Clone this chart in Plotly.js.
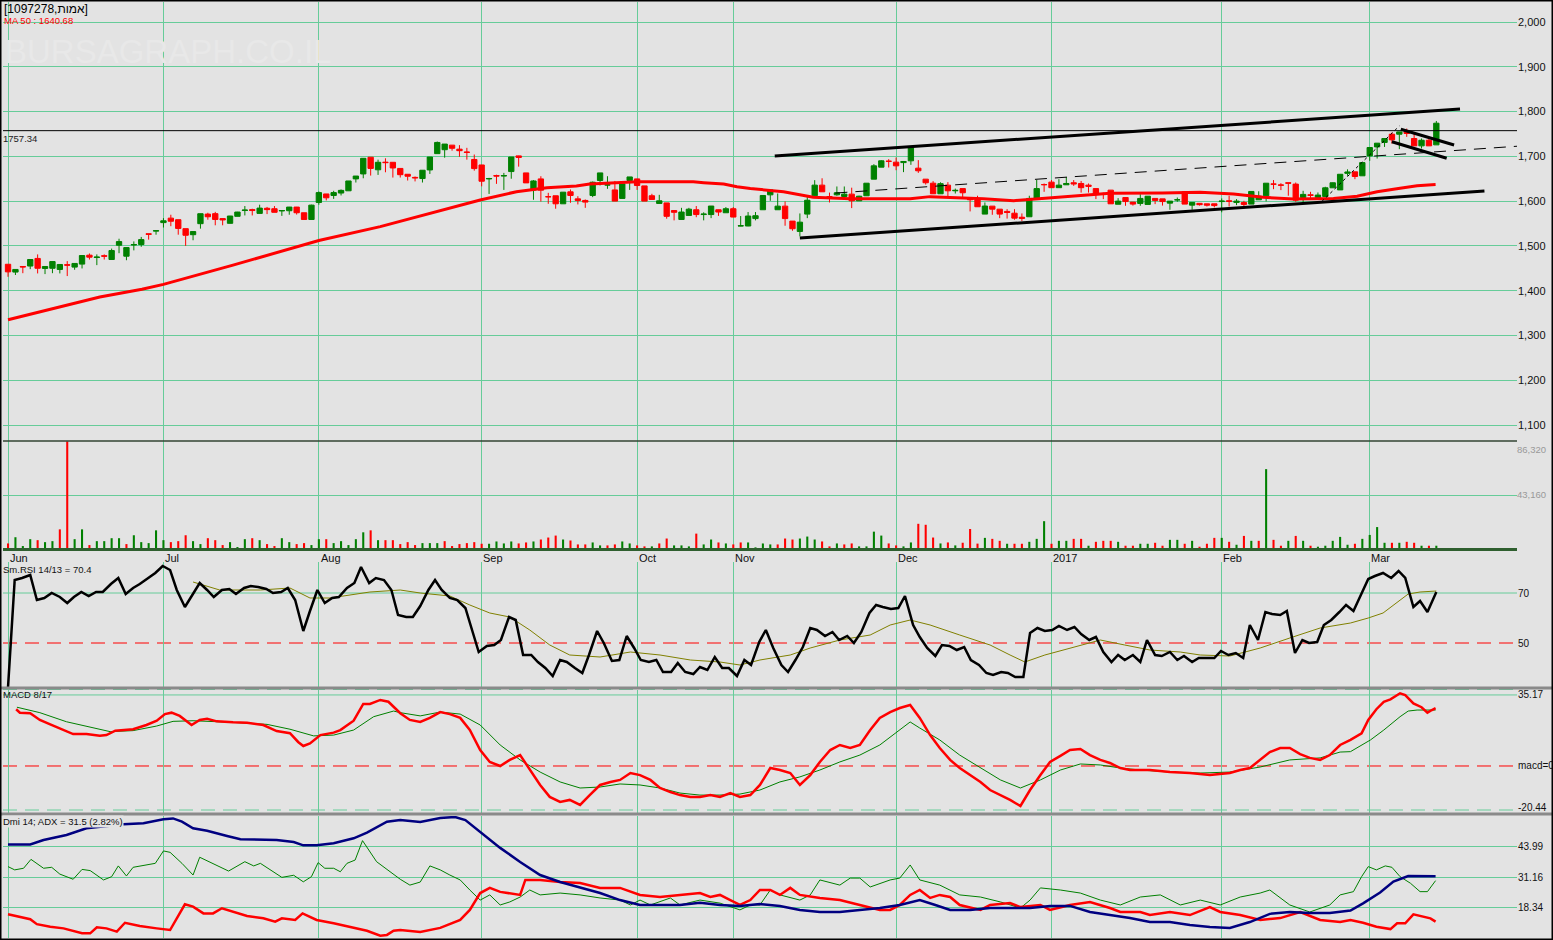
<!DOCTYPE html>
<html><head><meta charset="utf-8">
<script src="https://cdn.plot.ly/plotly-3.0.1.min.js"></script>
<style>html,body{margin:0;padding:0;background:#e3e3e3;}#chart{width:1553px;height:940px;}</style>
</head><body><div id="chart"></div>
<script>
// ---------------- DATA ----------------
const title = "[1097278,אמות]";
const maLabel = "MA 50 : 1640.68";
const monthNames = ['Jun','Jul','Aug','Sep','Oct','Nov','Dec','2017','Feb','Mar'];
const monthIdx   = [0,21,42,64,85,98,120,141,164,184];

const openP = [1459,1441.5,1454,1455,1472,1449.6,1450,1447.4,1458,1452.6,
1459.3,1479.3,1474,1478,1469.6,1501.5,1477,1502,1503,1527,
1533,1552,1562,1558.5,1538.5,1525,1549.6,1571,1572,1561,
1550.4,1566,1579,1581,1572.6,1584,1583,1578,1578.5,1586.7,
1574,1559,1597,1616,1612.6,1618,1623,1649.6,1660.7,1698,
1670,1687,1686.7,1673,1660,1653,1650.4,1669.6,1706,1714.8,
1725,1716,1709.6,1693,1680.7,1649.6,1657,1656,1666,1701,
1663,1625,1649.6,1610,1611.9,1594,1620.7,1605,1601.5,1612.6,
1646,1636,1625,1606,1646,1649.6,1634,1612,1594.8,1596,
1579,1559,1568,1580.7,1570,1570,1580.7,1574,1583,1544.4,
1544.4,1561,1580.7,1614,1580.7,1588.8,1555.4,1532.3,1571,1612,
1635.7,1610,1614,1610.4,1615.6,1600.7,1611.9,1649,1675.8,1689.2,
1687,1686,1690,1673.6,1649,1640,1616.4,1635.7,1623,1628,
1606,1603,1571,1588.8,1582,1577,1573,1564,1565,1606,
1637,1642.4,1630,1636.4,1641,1639.4,1635.7,1628,1616,1624.5,
1593,1608,1597.8,1594.8,1592.6,1606,1605,1595.5,1602.7,1620.8,
1591,1595,1594,1594,1599,1600.7,1597,1597,1593.3,1603,
1612,1638,1636,1641,1638,1608,1614,1608,1610.4,1629.7,
1625,1662,1665.4,1656.5,1701,1721,1731,1749.4,1749.4,1754.6,
1739.8,1723.4,1736,1725.6];
const highP = [1459,1447.4,1454,1470,1481,1454,1465,1459,1466,1461,
1479,1483,1481,1481,1494,1516,1496.3,1510,1520,1527,
1534,1562,1569.6,1558.5,1538.5,1532,1572,1574,1576,1562,
1567,1576,1589,1583,1592,1587,1589,1579,1587,1587,
1574,1592,1621.5,1616,1623,1626,1645,1656,1696,1698,
1692.6,1695.6,1687,1673,1660,1655,1669,1698.5,1733,1727.4,
1725,1725,1719,1704,1681,1652,1659,1663,1698.5,1701.5,
1663,1647,1655.6,1618.5,1612,1620,1626,1611,1603.7,1643.7,
1663,1655.6,1645,1639,1654,1650,1634,1616.3,1614,1596,
1579,1585,1585,1589,1575,1589,1581,1586.7,1586.7,1566.7,
1575.6,1575.6,1613,1625,1617,1599.3,1555.4,1572.5,1612,1646.8,
1651,1619,1632.7,1632.7,1630,1612,1640,1682.5,1691.5,1693.7,
1697.4,1689,1722,1691.5,1649,1644.6,1642,1642.4,1628,1628,
1606,1612,1597,1589,1582,1582,1582,1572.5,1612,1647.6,
1639.4,1647,1649,1654,1647,1645,1639.4,1628,1619,1624.5,
1606.7,1608,1598,1615.6,1611,1606,1605,1600,1608,1621,
1597,1595,1594,1594,1606,1612,1604.5,1600.7,1622,1622,
1640,1647,1640,1641,1641.6,1623,1620.8,1619.3,1632,1641.6,
1660,1671,1665.4,1686,1720,1729.4,1740,1753,1754.6,1762,
1750,1739.8,1742,1779];
const lowP = [1431,1435,1439,1448,1438.5,1437,1439,1438.5,1432.6,1446.7,
1449.6,1469.6,1457,1469.6,1469.6,1483.7,1468,1490,1498,1514,
1525,1541,1544,1525,1500,1512.6,1538.5,1558.5,1546,1546,
1550,1566,1568,1568,1572,1571,1575,1567,1569.6,1570,
1559,1559,1592,1601.5,1605,1612.6,1623,1641.5,1651,1657,
1658.5,1664.4,1652.6,1652.6,1646,1644,1641.5,1660.7,1706,1697,
1712.6,1699,1692.6,1668,1633,1616,1638.5,1625,1650,1677,
1640.7,1603,1599,1594,1583,1594,1596.3,1592.6,1585,1608.9,
1635,1627.4,1600,1606,1625,1625,1600,1603.7,1594.8,1560.7,
1557,1559,1568,1564,1557,1562,1567,1574,1564,1544,
1544,1557,1580.7,1600.7,1580.7,1545,1533.8,1521.2,1562,1610,
1620.8,1597,1612,1608,1584.4,1600.7,1611.9,1649,1675.8,1675,
1669,1664.7,1681,1663,1637,1616,1616.4,1609.7,1617,1606,
1577,1587,1571,1569.5,1562,1561,1558.4,1555.4,1565,1606,
1620.8,1630,1630,1636,1634,1619,1619,1604.5,1604.5,1594,
1593,1589.6,1590,1589.6,1592.6,1593.3,1590,1580.7,1598.5,1593.3,
1580.7,1590,1588,1586,1575,1588,1591,1583.6,1593.3,1603,
1599.3,1626.7,1624.5,1612,1598.5,1597,1606,1604.5,1610.4,1629.7,
1625,1656.5,1649,1656.5,1690,1695,1721,1728.6,1716,1743.5,
1723.4,1717.5,1723.4,1725.6];
const closeP = [1442,1447.4,1453,1469.6,1450,1454,1465,1458.5,1457,1460.8,
1478.5,1474.8,1475,1477,1489.6,1509.6,1496.3,1503,1514,1526,
1534,1556,1555,1539,1523.7,1532,1571.9,1565,1559,1558,
1566.7,1575.6,1580,1579,1584.4,1581,1575,1579,1586.7,1574,
1559,1591,1619,1607.4,1619,1624,1645,1656,1695.6,1673,
1686.7,1686,1674,1659,1655.6,1652,1669,1698.5,1731,1727.4,
1718,1712.6,1708.9,1672.6,1644.4,1650.4,1656,1657,1698.5,1697.5,
1640.7,1645,1624.4,1609.6,1594,1620,1612.6,1601.5,1597.8,1642.2,
1663,1636.3,1600,1638.5,1654,1634.8,1600,1603.7,1600.7,1566,
1575,1575.6,1582,1570,1571,1589,1575.6,1583,1564.4,1545,
1566.7,1567.4,1612.6,1625,1588.8,1561,1538.3,1553,1602,1635.7,
1620.8,1609.7,1618.6,1615.6,1600.7,1611,1640,1678.8,1690,1688.8,
1678.8,1688.5,1721,1667.7,1641,1616.4,1639,1623,1624,1618.6,
1603,1587.4,1589,1582,1571,1574.7,1562,1561.5,1606,1628,
1636.7,1630,1635.7,1639.4,1638.5,1630,1633,1615.6,1615,1594,
1600,1599,1593.3,1606,1611,1601.5,1599,1600,1603,1593.3,
1597,1592,1591,1590,1600,1599.5,1600,1592.6,1621.6,1611,
1640,1637.9,1635.7,1640,1602.2,1615,1613,1613.5,1629.7,1641,
1660,1665,1655,1686,1719.7,1729.4,1739.8,1736.8,1754.6,1751,
1723.4,1736,1723.4,1774];
const volume = [4447,9418,2354,7848,7063,5493,6278,15696,86066,7848,
15696,3139,6278,6278,8633,8633,3924,10987,5493,4709,
14911,7063,5493,6278,10987,6278,3924,8633,7063,3139,
5493,1570,7848,8633,7063,3924,2354,8633,5493,3924,
4709,3139,7848,7848,4709,6278,3139,7848,13345,14911,
7063,7063,7063,3924,5493,3139,4709,4709,4709,6278,
2354,3924,4709,5493,4200,4186,6017,4447,6017,4447,
5232,6017,7586,9156,10726,7586,6802,3662,3662,5232,
2878,2878,3662,6017,4447,2878,2093,2093,4447,8371,
2878,2878,2093,12295,3662,7586,5232,4447,3662,5232,
5232,1308,4447,3662,3662,8371,7586,8371,9941,7586,
6017,2093,4447,3662,4447,2093,2093,13865,10726,4447,
2878,2093,5232,20143,19358,9156,4447,5232,2878,5000,
16000,4300,8894,8110,6540,4186,4186,4186,5755,8110,
22236,4186,6540,6540,8110,8110,2616,5755,6540,6540,
5755,2616,2616,4186,4186,4970,2616,7325,7325,4186,
6540,1831,4186,8894,8894,5755,3400,10464,6540,6540,
63830,7325,2616,6540,10464,6540,2616,1831,2616,6540,
9679,3400,4186,8110,11249,17527,4970,4970,4970,5755,
4970,2616,2616,2616];

const maX = [0,7,12.4,18.1,21,30.4,42,50.3,63.8,68.7,72.8,76.8,78.6,85,92.6,94,96.7,98.5,100.3,104.8,107.5,108.8,113.8,121.9,124.6,131.8,135.9,140.8,143.5,148.9,156,161.1,165.6,169.6,173.7,179.1,182.3,185,188.1,190.4,192.9];
const maV = [1335,1364,1386,1403,1414,1457,1512,1543,1602.5,1621,1630,1634,1638,1643,1643,1641,1638,1632,1628,1621,1613,1608.5,1605.5,1605.5,1610,1605.5,1601,1607.7,1611,1617.4,1618,1619.6,1616,1608.5,1604.7,1606,1611,1621,1628.5,1634.5,1637];

// drawn trend lines (start, end)
const upperChX = [103.6,196.2], upperChY = [1700.7,1805.7];
const lowerChX = [107,199.5],   lowerChY = [1517.6,1622.6];
const midChX   = [111.8,204.3], midChY   = [1618,1723];
const dotLineX = [177.5,188],   dotLineY = [1598.7,1767.7];
const flagUpX  = [188.2,195.4], flagUpY  = [1760.4,1725.3];
const flagLoX  = [187,194.4],   flagLoY  = [1732.7,1695.6];
const levelLine = 1757.34;

const priceTicks = [1100,1200,1300,1400,1500,1600,1700,1800,1900,2000];
const volTicks = [43160,86320];

const rsiX = [0,0.9,1.9,3,3.9,4.9,5.9,7,8,8.9,9.9,10.9,11.9,12.8,13.9,14.9,15.9,16.9,17.8,18.9,
19.9,20.9,21.9,22.8,23.9,24.9,25.9,26.9,27.8,28.9,29.9,30.8,31.9,32.8,33.8,34.9,35.8,36.9,37.8,38.8,
39.9,40.8,41.8,42.8,43.8,44.7,45.8,46.8,47.7,48.8,49.7,50.8,51.8,52.7,53.8,54.7,55.7,56.8,57.7,58.6,
59.7,60.7,61.8,62.7,63.6,64.7,65.7,66.6,67.7,68.6,69.6,70.7,71.6,72.6,73.6,74.6,75.5,76.6,77.6,78.5,
79.6,80.5,81.6,82.6,83.6,84.6,85.5,86.6,87.6,88.5,89.6,90.5,91.5,92.6,93.5,94.5,95.5,96.5,97.4,98.5,
99.5,100.4,101.5,102.4,103.4,104.5,105.4,106.4,107.4,108.4,109.3,110.4,111.4,112.3,113.4,114.3,115.3,116.4,117.3,118.2,
119.3,120.3,121.2,122.3,123.2,124.2,125.3,126.2,127.2,128.2,129.2,130.1,131.2,132.2,133.1,134.2,135.1,136.1,137.2,138.1,
139.1,140.1,141.1,142,143.1,144.1,145,146.1,147,148,149.1,150,150.9,152,153,153.9,155,155.9,157,158,
158.9,160,160.9,161.9,163,163.9,164.9,165.9,166.9,167.8,168.9,169.9,170.8,171.9,172.8,173.9,174.9,175.8,176.9,177.8,
178.8,179.9,180.8,181.8,182.8,183.8,184.7,185.8,186.9,187.9,188.8,189.9,190.8,191.8,193];
const rsiV = [32.4,75.2,76,77.2,67.2,68,70,68.4,66,68.4,70.4,68.8,70.4,70.4,73.6,76,69.6,72,73.6,76,
78,80.8,79.2,71.2,64.4,69.2,74,71.2,68.4,71.2,71.6,69.6,72,72.8,72.4,71.6,70,70.4,72,67.2,
54.8,62.8,71.2,66,68,68.4,72,74,80.4,74,76,75.2,71.2,61.2,60.4,60.4,64.8,71.2,75.2,71.2,
68,67.2,64,55.2,46.4,48.8,49.2,51.2,60.4,59.2,45.2,45.2,42.4,40,36.8,43.2,42.4,40,38,45.2,
54.8,50,42.8,43.2,52.8,48,43.2,42.4,43.2,38.4,38.4,42,38.4,37.6,40.4,39.2,44.4,40,40,36.8,
43.2,41.2,50.4,55.2,48,41.2,38.4,43.2,48.4,56,55.2,52.8,54.4,51.2,52.8,50,54.4,62,65.2,64.4,
63.6,64,68.8,57.2,52.4,48,44.8,49.2,48.8,47.2,48.4,43.2,41.2,38,37.2,38.4,38,36.4,36.4,54,
56,54.8,55.2,56.8,55.2,56.4,53.6,51.2,52.4,46.4,42.4,45.2,43.2,45.2,42.4,51.2,45.2,44.8,46.4,43.2,
44.8,42.4,44,44,44,46.8,45.2,46,44,57.2,51.2,62.4,61.6,61.2,62.8,46,51.2,50,50.4,57.2,
59.2,62.4,65.2,62.8,69.2,75.6,76.8,78,76,78.8,76,64.4,66.8,62.4,70.4];
const rsiSigX = [25,25.9,28.6,34.1,38.1,40.8,43.5,48.9,53,55.7,59.7,62.4,65.1,67.8,70.5,73.2,75.9,80,84.1,88.1,92.2,96.2,98.9,101.6,105.7,108.4,112.4,116.5,119.2,121.9,124.6,128.6,132.7,135.4,137.4,140.1,143.5,147.6,150.9,154.3,158.4,161.1,165.1,169.2,173.2,177.3,181.4,183.8,185.8,187.7,189.2,190.8,193];
const rsiSigV = [74.4,73.6,71.2,71.2,72,68,68,70.4,71.2,70,68.8,65.2,62,60.4,55.2,49.2,45.2,44.4,46.4,45.2,43.2,42.4,41.2,43.2,45.2,48,51.2,53.2,57.2,59.2,57.2,53.2,49.2,45.2,42.4,45.2,48,51.2,49.2,47.2,46.4,45.2,44.8,48,52,56,58,60,62,66.4,69.6,70.4,70.8];
const rsiLevels = [50,70];

const macdX = [1.1,1.6,3,4.3,5.7,7,8.8,10.6,12.4,13.3,14.5,16.9,18.7,20.1,21.2,22.1,23.2,24.8,25.9,26.9,28.2,30.4,32.3,34.5,36.3,38.1,39.2,39.9,40.8,42.2,44,44.9,46.7,48,48.9,50.3,51.4,53,54.3,55.7,57,58.4,59.7,61.1,62.4,63.8,65.1,66.5,67.8,69.2,70.5,71.9,73.2,74.6,75.9,77.3,78.6,80,81.4,82.7,84.1,85.4,86.8,88.1,89.5,90.8,92.2,93.5,94.9,96.2,97.6,98.9,100.3,101.6,103,104.3,105.7,107,108.4,109.7,111.1,112.4,113.8,115.1,116.5,117.8,119.2,120.5,121.9,123.2,124.6,125.9,127.3,128.6,130,131.4,132.7,134.1,135.4,136.8,138.1,139.5,140.8,142.2,143.5,144.9,146.2,147.6,148.9,150.3,151.6,154.3,157,159.7,162.4,165.1,166.5,167.8,169.2,170.5,171.9,173.2,174.6,175.9,177.3,178.6,180,181.4,182.9,183.8,184.9,185.9,186.8,188.1,188.8,189.9,191,191.8,192.4,192.9];
const macdV = [28.1,26.4,26.1,22.8,20.6,18.7,15.8,15.8,15,15.3,17.5,18.2,20.3,22.4,25.7,26.4,24.8,20.3,22.8,23.4,22.1,21.6,21.4,20.3,17.3,16.2,11.9,9.9,11.2,15.3,16.5,17.8,22.4,30.7,30.7,32.7,31.8,26.1,22.8,21.8,23.8,26.7,25.7,23.8,17.8,7.9,2,0,3,5.4,-2,-9.4,-15.3,-17.8,-16.8,-19.3,-14.4,-9.4,-7.9,-6.9,-3.5,-4.5,-6.9,-10.9,-12.9,-14.4,-15.3,-15.3,-14.4,-15.3,-13.4,-15.3,-14.4,-9.4,-1,-2,-3.5,-9.4,-4.5,2,7.9,10.4,8.9,10.4,17.8,23.8,26.7,28.7,30.2,23.8,15.3,8.9,3,-1,-4.5,-7.9,-11.9,-14.4,-16.8,-19.8,-11.9,-4.5,2,5,7.9,8.4,5.4,3,1.5,-1,-2,-2,-3,-3.5,-4.5,-3.5,-2,-1,3,6.9,8.9,8.9,5.9,4,3,5.4,10.4,12.9,16.2,22.8,28.1,31.8,33,36,35.1,31,29.1,26.4,27.7,28.6];
const macdSigX = [1.2,4.3,7.9,11.5,13.8,16.9,20.1,22.3,25,30.4,35,38.1,41.3,44,46.7,49.4,52.1,53,55.7,58.4,61.1,63.8,66.5,69.2,71.9,74.6,77.3,80,82.7,85.4,88.1,90.8,93.5,96.2,98.9,101.6,104.3,107,109.7,112.4,115.1,117.8,120.5,121.9,123.2,125.9,128.6,131.4,134.1,136.8,139.5,142.2,144.9,147.6,150.3,153,157,161.1,165.1,169.2,173.2,177.3,180,181.4,184.1,185.9,188.1,189.2,190.4,192.9];
const macdSigV = [29.1,26.4,21.9,18.7,17,17.5,19.8,22.1,22.4,21.6,20.6,18.2,14.9,15.3,17.8,24.4,27.2,26.4,24.8,26.7,25.7,20.3,10.4,3,-3,-7.9,-10.9,-10.4,-8.9,-9.4,-10.9,-13.4,-14.4,-14.4,-13.9,-11.9,-7.9,-5.4,-2,2,5.4,10.4,17.8,21.8,18.8,12.9,5.4,-1,-6.9,-10.9,-6.9,-2,1,0.5,-1,-2,-3,-3.5,-3,-0.5,3,4,6.9,7.1,12.9,17.8,24.4,27.2,27.7,27.7];
const macdLevels = [35.17,0,-20.44];
const macdLevelText = ['35.17','macd=0','-20.44'];

const adxX = [0,3,4.8,7.9,10.6,15.6,18.3,21,22.3,23.5,25,26.9,29.6,31.4,36.3,38.6,39.9,41.7,44,46.7,48.5,51.2,53,55.7,58.4,60.4,61.8,63.8,66.5,69.2,71.9,74.6,77.3,80,82.7,85.4,90.8,93.5,96.2,98.9,101.6,104.3,107,109.7,112.4,115.1,117.8,120.5,123.2,125.3,127.3,130,132.7,138.1,140.8,143.5,146.2,148.9,151.6,154.3,157,159.7,162.4,165.1,167.8,170.5,173.2,175.9,178.6,181.4,183.1,185.4,187.2,189.2,192.9];
const adxV = [45.1,45.1,47,49.1,52,53.7,54.1,55.8,56.2,54.8,52,50.9,48.7,47.3,47,46.1,44.7,44.7,45.6,47.7,50.1,54.8,55.5,54.7,56.4,56.8,55.5,50.4,43.6,37.6,32,29,26.5,24.3,21.3,19.2,19.2,20.1,19.2,18.8,19.6,18.8,17.1,16.2,16.2,17.1,17.9,19.2,21.3,19.2,17.1,17.1,17.9,17.9,18.8,18.8,16.2,14.9,13.6,11.9,11.9,10.6,9.8,9.4,11.9,15.4,16.2,15.8,15.8,16.8,19.9,24.5,29.2,31.6,31.5];
const diPlusX = [0,0.9,2.1,3.1,4.8,5.9,7,8.8,10,11.1,12.9,14,14.9,16,16.9,19.9,21,21.9,23.5,25,25.9,27.7,29.8,32,33.2,34.1,37,38.6,39.9,41,41.9,42.8,44,44.9,45.8,46.9,47.9,49.8,51.2,53,54.3,55.7,57,58.4,59.7,61.1,62.4,63.8,65.1,66.5,67.8,69.2,70.5,71.9,74.6,77.3,80,82.7,84.1,85.4,86.8,89.5,90.8,93.5,96.2,98.9,100.3,101.6,103,104.3,107,108.4,109.7,112.4,113.8,115.1,116.5,119.2,120.5,121.9,123.2,125.9,128.6,131.4,134.1,136.8,138.1,139.5,142.2,144.9,147.6,150.3,153,155.7,158.4,161.1,163.8,166.5,169.2,170.5,173.2,175.9,178.6,180,181.8,182.9,183.8,184.9,186.1,187,188.1,189.5,190.8,191.8,192.9];
const diPlusV = [35.6,34.2,34.9,38.7,34.9,35.3,32.4,30.2,34.4,33.9,29.9,31.3,35.9,31.6,35.3,37,42.3,41.7,37,32,39.6,37,33.7,37.7,35.9,37,31,31.9,29.1,31.3,37.3,34.9,34.9,33.4,37,38.4,46.7,37.7,34.5,30.2,27.7,29,35.9,34.2,32,29.9,25.6,21.3,23.5,19.2,20.5,22.6,25.6,23.5,24.3,23.5,22.2,21.3,19.2,21.3,19.2,22.2,19.2,21.3,20,17.1,19.2,19.2,25.6,23.5,21.3,23.5,29.9,27.7,30.7,30.7,26.9,29.9,30.7,36.3,29.9,27.7,23.5,22.6,20.5,17.9,21.3,26.5,25.6,24.3,21.3,19.2,22.6,23.5,19.2,21.3,19.2,22.6,24.3,25.6,19.2,16.2,19.2,23.5,24.9,31.3,35.6,34.2,35.9,35.3,31.3,28.5,24.9,24.9,29.6];
const diMinusX = [0,1.6,3,3.9,5.7,7.5,10,11.1,12,13.3,14.7,15.8,17.8,20.1,21.9,23.9,25,26.4,27.7,28.9,30.4,32.3,34.5,36.1,37,38.8,39.8,41.7,44,46.2,48.5,50.3,51.2,52.1,53,55.7,58.4,61.1,62.4,63.8,65.1,66.5,67.8,69.2,69.9,71.9,74.6,77.3,80,82.7,85.4,88.1,90.8,93.5,94.9,96.2,97.6,98.9,100.3,101.6,103,104.3,105.7,107,109.7,112.4,115.1,117.8,119.2,120.5,121.9,123.2,124.6,125.9,127.3,128.6,131.4,132.7,135.4,136.8,139.5,140.8,143.5,146.2,148.9,150.3,153,154.3,157,159.7,162.4,163.8,166.5,169.2,171.9,174.6,177.3,180,181.4,183.1,184.9,186.8,187.7,188.8,189.9,191,192.2,192.9];
const diMinusV = [15.2,14.2,13.1,11,9.9,9.2,7.1,7.1,9.7,9.2,7.8,11.6,10.2,9.2,8.5,19.5,18.5,15.6,15.6,17.8,16.3,14.5,13.5,12.1,13.5,12.8,15.6,12.8,11.4,9.9,8.2,6.1,6.4,8.2,8.5,7.7,9.4,12.8,17.1,24.3,26.5,24.8,24.3,23.5,29.9,29.9,29,28.6,26.5,26.5,23.5,22.6,23.5,24.3,22.6,23.5,21.3,19.2,21.3,25.6,25.6,23.5,26.5,23.5,22.2,21.3,19.2,17.1,17.1,19.2,23.5,25.6,22.2,23.5,22.6,19.2,17.1,19.2,20,18.3,19.2,17.1,19.2,20.5,17.9,16.2,16.2,14.9,16.2,14.9,18.3,16.2,14.9,12.8,13.6,16.2,12.8,11.9,12.8,11.6,9.9,8.9,11.4,11.4,15.2,14.5,13.5,12.1];
const dmiLevels = [18.34,31.16,43.99];

// ---------------- LAYOUT HELPERS ----------------
const W = 1553, H = 940;
const py = p => 1 - p / H;
const xl = 3 / W, xr = 1517 / W;
const FONT = 'Liberation Sans, Arial, sans-serif';
const GRID = '#66cc99';
const BG = '#e3e3e3';
const idx = closeP.map((_, i) => i);
const volColors = closeP.map((c, i) => i === 0 ? (c < openP[0] ? '#ff0000' : '#008000') : (c >= closeP[i - 1] ? '#008000' : '#ff0000'));

const line = (x, y, color, width, yaxis, dash) => ({type: 'scatter', mode: 'lines', x, y, yaxis, xaxis: 'x',
  line: {color, width, dash: dash || 'solid'}, hoverinfo: 'skip'});

const traces = [
  line(maX, maV, '#ff0000', 3, 'y'),
  {type: 'candlestick', x: idx, open: openP, high: highP, low: lowP, close: closeP, xaxis: 'x', yaxis: 'y',
   increasing: {line: {color: '#008000', width: 1}, fillcolor: '#008000'},
   decreasing: {line: {color: '#ff0000', width: 1}, fillcolor: '#ff0000'},
   whiskerwidth: 0, hoverinfo: 'skip'},
  line(upperChX, upperChY, '#000', 3, 'y'),
  line(lowerChX, lowerChY, '#000', 3, 'y'),
  line(midChX, midChY, '#000', 1, 'y', '12px,8px'),
  line(dotLineX, dotLineY, '#000', 1, 'y', 'dot'),
  line(flagUpX, flagUpY, '#000', 3, 'y'),
  line(flagLoX, flagLoY, '#000', 3, 'y'),
  {type: 'bar', x: idx, y: volume, xaxis: 'x', yaxis: 'y2', width: 0.28, marker: {color: volColors, line: {width: 0}}, hoverinfo: 'skip'},
  line(rsiSigX, rsiSigV, '#808000', 1, 'y3'),
  line(rsiX, rsiV, '#000000', 2.5, 'y3'),
  line(macdSigX, macdSigV, '#008000', 1, 'y4'),
  line(macdX, macdV, '#ff0000', 2.5, 'y4'),
  line(diPlusX, diPlusV, '#008000', 1, 'y5'),
  line(diMinusX, diMinusV, '#ff0000', 2.5, 'y5'),
  line(adxX, adxV, '#000080', 2.5, 'y5'),
];

const yBase = {side: 'right', anchor: 'x', zeroline: false, showline: false, ticks: '', fixedrange: true,
  tickfont: {family: FONT, size: 10, color: '#111'}, automargin: false, gridcolor: GRID, gridwidth: 1};

const layout = {
  width: W, height: H, margin: {l: 0, r: 0, t: 0, b: 0, pad: 0},
  paper_bgcolor: BG, plot_bgcolor: 'rgba(0,0,0,0)', showlegend: false, hovermode: false,
  boxgap: 0.28, boxgroupgap: 0,
  font: {family: FONT},
  xaxis: {domain: [xl, xr], range: [-0.68, 203.9], tickvals: monthIdx, showticklabels: false, ticks: '',
    showgrid: true, gridcolor: GRID, gridwidth: 1, zeroline: false, showline: false, fixedrange: true,
    rangeslider: {visible: false}, anchor: 'y5'},
  yaxis: Object.assign({}, yBase, {domain: [py(441), py(2)], range: [1064.27, 2044.67],
    tickvals: priceTicks, ticktext: priceTicks.map(v => v.toLocaleString('en-US')), showgrid: true,
    tickfont: {family: FONT, size: 11, color: '#111'}}),
  yaxis2: Object.assign({}, yBase, {domain: [py(549), py(441)], range: [0, volTicks[1]],
    tickvals: [volTicks[0]], showticklabels: false, showgrid: true}),
  yaxis3: Object.assign({}, yBase, {domain: [py(687), py(562)], range: [32.4, 82.4],
    tickvals: rsiLevels, ticktext: rsiLevels.map(String), showgrid: false}),
  yaxis4: Object.assign({}, yBase, {domain: [py(813), py(690)], range: [-23.27, 37.62],
    tickvals: macdLevels, ticktext: macdLevelText, showgrid: false}),
  yaxis5: Object.assign({}, yBase, {domain: [py(938), py(816)], range: [5.09, 57.23],
    tickvals: dmiLevels, ticktext: dmiLevels.map(v => v.toFixed(2)), showgrid: true}),
  shapes: [
    {type: 'line', xref: 'x domain', yref: 'y', x0: 0, x1: 1, y0: levelLine, y1: levelLine, line: {color: '#000', width: 1}},
    {type: 'line', xref: 'x domain', yref: 'y3', x0: 0, x1: 1, y0: 70, y1: 70, layer: 'below', line: {color: GRID, width: 1}},
    {type: 'line', xref: 'x domain', yref: 'y3', x0: 0, x1: 1, y0: 50, y1: 50, layer: 'below', line: {color: '#ff0000', width: 1, dash: '14px,8px'}},
    {type: 'line', xref: 'x domain', yref: 'y4', x0: 0, x1: 1, y0: 35.17, y1: 35.17, layer: 'below', line: {color: GRID, width: 1}},
    {type: 'line', xref: 'x domain', yref: 'y4', x0: 0, x1: 1, y0: 0, y1: 0, layer: 'below', line: {color: '#ff0000', width: 1, dash: '14px,8px'}},
    {type: 'line', xref: 'paper', yref: 'paper', x0: xl, x1: xr, y0: py(689.5), y1: py(689.5), line: {color: GRID, width: 1, dash: '14px,8px'}},
    {type: 'line', xref: 'paper', yref: 'paper', x0: xl, x1: xr, y0: py(810), y1: py(810), line: {color: GRID, width: 1, dash: '14px,8px'}},
    {type: 'line', xref: 'paper', yref: 'paper', x0: xl, x1: xr, y0: py(441), y1: py(441), line: {color: '#334433', width: 1.5}},
    {type: 'line', xref: 'paper', yref: 'paper', x0: xl, x1: xr, y0: py(549.5), y1: py(549.5), line: {color: '#2f5f2f', width: 3}},
    {type: 'line', xref: 'paper', yref: 'paper', x0: 0, x1: 1, y0: py(688), y1: py(688), line: {color: '#8a8a8a', width: 3}},
    {type: 'line', xref: 'paper', yref: 'paper', x0: 0, x1: 1, y0: py(814), y1: py(814), line: {color: '#8a8a8a', width: 3}},
    {type: 'rect', xref: 'paper', yref: 'paper', x0: 0, x1: 1, y0: 0, y1: 1, line: {color: '#000', width: 3}},
  ],
  annotations: []
};

const ann = (text, xPaperPx, yPx, size, color, extra) => Object.assign({
  text, xref: 'paper', yref: 'paper', x: xPaperPx / W, y: py(yPx), xanchor: 'left', yanchor: 'middle',
  showarrow: false, font: {family: FONT, size, color}, borderpad: 0}, extra || {});

layout.annotations.push(
  ann('BURSAGRAPH.CO.IL', 4, 51, 33, '#e8e8e8'),
  ann(title, 3, 9, 12, '#000'),
  ann(maLabel, 3, 21, 9.5, '#ff0000'),
  ann(levelLine.toFixed(2), 2, 138, 9.5, '#222'),
  ann(volTicks[1].toLocaleString('en-US'), 1516, 449, 9.5, '#999'),
  ann(volTicks[0].toLocaleString('en-US'), 1516, 494, 9.5, '#999'),
  ann('Sm.RSI 14/13 = ' + rsiV[rsiV.length - 1].toFixed(1), 2, 569, 9.5, '#111'),
  ann('MACD 8/17', 2, 694.5, 9.5, '#111'),
  ann('Dmi 14; ADX = ' + adxV[adxV.length - 1].toFixed(1) + ' (2.82%)', 2, 821, 9.5, '#111', {bgcolor: BG})
);
monthNames.forEach((m, k) => layout.annotations.push({
  text: m, xref: 'x', yref: 'paper', x: monthIdx[k] + 0.1, y: py(558), xanchor: 'left', yanchor: 'middle',
  showarrow: false, font: {family: FONT, size: 11, color: '#111'}, borderpad: 0}));

Plotly.newPlot('chart', traces, layout, {staticPlot: true, displayModeBar: false});
</script></body></html>
